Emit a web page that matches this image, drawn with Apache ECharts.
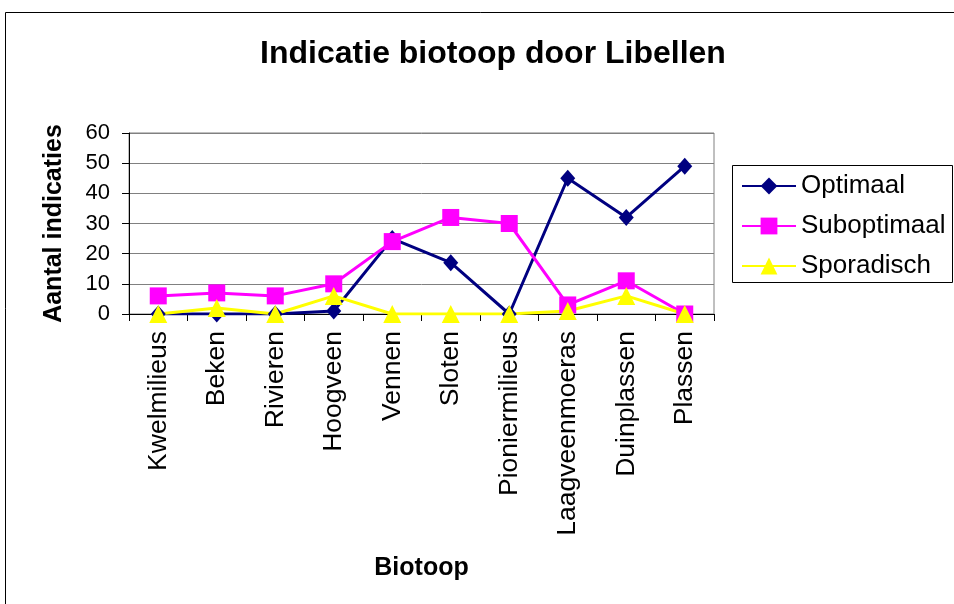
<!DOCTYPE html>
<html>
<head>
<meta charset="utf-8">
<title>Indicatie biotoop door Libellen</title>
<script src="https://cdn.jsdelivr.net/npm/echarts@6/dist/echarts.min.js"></script>
<style>
  html, body { margin: 0; padding: 0; background: #fff; }
  #chart { width: 954px; height: 604px; }
</style>
</head>
<body>
<div id="chart"></div>
<script>
// biotopen (x-as)
const biotopen = ["Kwelmilieus", "Beken", "Rivieren", "Hoogveen", "Vennen", "Sloten",
  "Pioniermilieus", "Laagveenmoeras", "Duinplassen", "Plassen"];
// aantal indicaties per reeks
const optimaal = [0, 0, 0, 1, 25, 17, 0, 45, 32, 49];
const suboptimaal = [6, 7, 6, 10, 24, 32, 30, 3, 11, 0];
const sporadisch = [0, 2, 0, 6, 0, 0, 0, 1, 6, 0];
const yTicks = [0, 10, 20, 30, 40, 50, 60];

const font = "Liberation Sans, Arial, sans-serif";

const chart = echarts.init(document.getElementById("chart"));

function lijn(name, data, color, symbol, size) {
  return {
    name: name,
    type: "line",
    data: data,
    symbol: symbol,
    symbolSize: size,
    lineStyle: { color: color, width: 3 },
    itemStyle: { color: color },
    emphasis: { disabled: true },
    animation: false,
  };
}

const option = {
  backgroundColor: "#fff",
  textStyle: { fontFamily: font },
  title: {
    text: "Indicatie biotoop door Libellen",
    left: 488,
    textAlign: "center",
    top: 33,
    textStyle: { fontSize: 32, fontWeight: "bold", color: "#000", fontFamily: font },
  },
  // kader van de grafiek en van de legenda
  graphic: [
    {
      type: "rect",
      shape: { x: 5.5, y: 12.5, width: 1000, height: 700 },
      style: { fill: null, stroke: "#000", lineWidth: 1 },
      silent: true,
    },
    {
      type: "rect",
      shape: { x: 732.5, y: 165.5, width: 220, height: 117 },
      style: { fill: null, stroke: "#000", lineWidth: 1 },
      silent: true,
    },
  ],
  legend: {
    orient: "vertical",
    left: 741,
    top: 173,
    padding: 0,
    itemWidth: 54,
    itemHeight: 21,
    itemGap: 14,
    textStyle: { fontSize: 26, color: "#000", fontFamily: font },
    data: ["Optimaal", "Suboptimaal", "Sporadisch"],
  },
  grid: {
    left: 129,
    right: 240,
    top: 133,
    bottom: 290,
    show: true,
    borderColor: "#808080",
    borderWidth: 1,
    backgroundColor: "#fff",
  },
  xAxis: {
    type: "category",
    data: biotopen,
    boundaryGap: true,
    name: "Biotoop",
    nameLocation: "middle",
    nameGap: 242,
    nameTextStyle: { fontSize: 25, fontWeight: "bold", color: "#000", fontFamily: font },
    axisLine: { lineStyle: { color: "#000", width: 1 } },
    axisTick: { show: true, length: 7, lineStyle: { color: "#000" } },
    axisLabel: { rotate: 90, fontSize: 26.5, color: "#000", margin: 17, interval: 0, fontFamily: font },
    splitLine: { show: false },
  },
  yAxis: {
    type: "value",
    min: yTicks[0],
    max: yTicks[yTicks.length - 1],
    interval: 10,
    name: "Aantal indicaties",
    nameLocation: "middle",
    nameGap: 62,
    nameTextStyle: { fontSize: 25, fontWeight: "bold", color: "#000", fontFamily: font },
    axisLine: { show: true, lineStyle: { color: "#000", width: 1 } },
    axisTick: { show: true, length: 7, lineStyle: { color: "#000" } },
    axisLabel: { fontSize: 22, color: "#000", margin: 19, fontFamily: font },
    splitLine: { show: true, lineStyle: { color: "#808080", width: 1 } },
  },
  series: [
    lijn("Optimaal", optimaal, "#000080", "diamond", [15, 17]),
    lijn("Suboptimaal", suboptimaal, "#ff00ff", "rect", 17),
    lijn("Sporadisch", sporadisch, "#ffff00", "triangle", 18),
  ],
};

chart.setOption(option);
</script>
</body>
</html>
